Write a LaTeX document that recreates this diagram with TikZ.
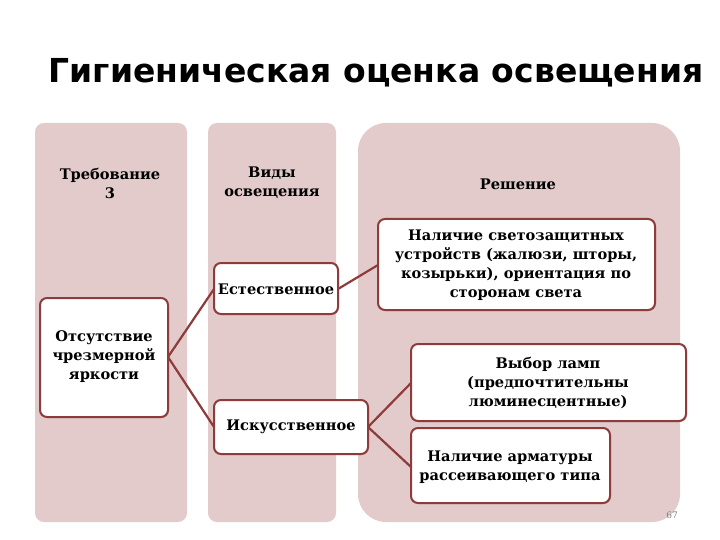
\documentclass[tikz,border=0pt]{standalone}
\usepackage{fontspec}
\setmainfont{DejaVu Serif}
\newfontfamily\titlefont{DejaVu Sans}
\usetikzlibrary{shadows}
\definecolor{colbg}{HTML}{E3CBCB}
\definecolor{bord}{HTML}{8E3B3B}
\tikzset{
 col/.style={fill=colbg,draw=none,rounded corners=9pt},
 wbox/.style={fill=white,draw=bord,line width=2pt,rounded corners=7pt,drop shadow={shadow xshift=1pt,shadow yshift=-1pt,opacity=0.3}},
 txt/.style={font=\bfseries\fontsize{14.6}{19}\selectfont,align=center,text=black},
 link/.style={draw=bord,line width=2.2pt}
}
\begin{document}
\begin{tikzpicture}[x=1pt,y=-1pt]
\useasboundingbox[fill=white] (0,0) rectangle (720,540);
\node[font=\titlefont\fontsize{33}{36}\selectfont\bfseries,anchor=center] (title) at (376,73) {Гигиеническая оценка освещения};
\path[col] (35,123) rectangle (187,522);
\path[col] (208,123) rectangle (336,522);
\path[col,rounded corners=28pt] (358,123) rectangle (680,522);
\node[txt] (h1) at (110,183) {Требование\\3};
\node[txt] (h2) at (272,183) {Виды\\освещения};
\node[txt] (h3) at (518,184) {Решение};
\path[wbox] (40,298) rectangle (168,417);
\node[txt] (a) at (104,357) {Отсутствие\\чрезмерной\\яркости};
\path[wbox] (214,263) rectangle (338,314);
\node[txt] (e) at (276,289) {Естественное};
\path[wbox] (214,400) rectangle (368,454);
\node[txt] (i) at (291,427) {Искусственное};
\path[wbox] (378,219) rectangle (655,310);
\node[txt] (s) at (516,265) {Наличие светозащитных\\устройств (жалюзи, шторы,\\козырьки), ориентация по\\сторонам света};
\path[wbox] (411,344) rectangle (686,421);
\node[txt] (v) at (548,383) {Выбор ламп\\(предпочтительны\\люминесцентные)};
\path[wbox] (411,428) rectangle (610,503);
\node[txt] (r) at (510,467) {Наличие арматуры\\рассеивающего типа};
\node[text=gray,font=\fontsize{9}{10}\selectfont] (pg) at (672,515) {67};
\coordinate (aE) at (168,357);
\coordinate (eW) at (214,289);
\coordinate (eE) at (338,289);
\coordinate (iW) at (214,427);
\coordinate (iE) at (368,427);
\coordinate (sW) at (378,265);
\coordinate (vW) at (411,383);
\coordinate (rW) at (411,467);
\draw[link] (aE) -- (eW);
\draw[link] (aE) -- (iW);
\draw[link] (eE) -- (sW);
\draw[link] (iE) -- (vW);
\draw[link] (iE) -- (rW);
\end{tikzpicture}
\end{document}
